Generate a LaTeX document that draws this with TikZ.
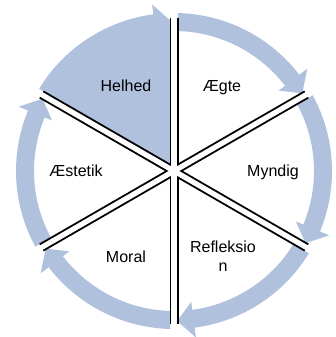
\documentclass[tikz,border=0pt]{standalone}
\usepackage{fontspec}
\setmainfont{Liberation Sans}
\usepackage{tikz}
\usepackage{xcolor}
\usetikzlibrary{calc}
\definecolor{cyblue}{HTML}{B0C1DE}
\definecolor{cyink}{HTML}{000000}
\tikzset{
  bandFill/.style={fill=cyblue, draw=none},
  gapOuter/.style={draw=cyink, line width=9pt},
  gapInner/.style={draw=white, line width=5.2pt},
  stageLabel/.style={font=\fontsize{16}{19}\selectfont, text=cyink, align=center, inner sep=0pt, anchor=base}
}

\begin{document}
\begin{tikzpicture}[x=1pt,y=1pt]
  \useasboundingbox (0,0) rectangle (336,337);
  \fill[white] (0,0) rectangle (336,337);
  \begin{scope}[shift={(174,166)}]
    % Helhed slice is filled
    \fill[bandFill] (0,0) -- (148.6:149pt) arc[start angle=148.6, end angle=91, radius=149pt] -- cycle;
    % one arrow per slice, clockwise
    \foreach \a/\b in {150/90,90/30,30/-30,-30/-90,-90/-150,-150/-210}{
      \pgfmathsetmacro{\s}{\a-1.4}
      \pgfmathsetmacro{\e}{\b+7.5}
      \pgfmathsetmacro{\t}{\b+1.2}
      \fill[bandFill] (\s:158pt) arc[start angle=\s, end angle=\e, radius=158pt]
        -- (\e:168pt) -- (\t:150pt) -- (\e:132pt) -- (\e:140pt)
        arc[start angle=\e, end angle=\s, radius=140pt] -- cycle;
    }
    \foreach \r in {90,30,-30}
      \draw[gapOuter] (\r:153pt) -- (\r+180:153pt);
    \foreach \r in {90,30,-30}
      \draw[gapInner] (\r:154pt) -- (\r+180:154pt);
  \end{scope}
  \node[stageLabel] (helhed) at (126,245) {Helhed};
  \node[stageLabel] (aegte) at (222,245) {Ægte};
  \node[stageLabel] (myndig) at (273,160) {Myndig};
  \node[stageLabel] (refleksion) at (223,65) {Refleksio\\n};
  \node[stageLabel] (moral) at (126,74) {Moral};
  \node[stageLabel] (aestetik) at (76,160) {Æstetik};
\end{tikzpicture}
\end{document}
